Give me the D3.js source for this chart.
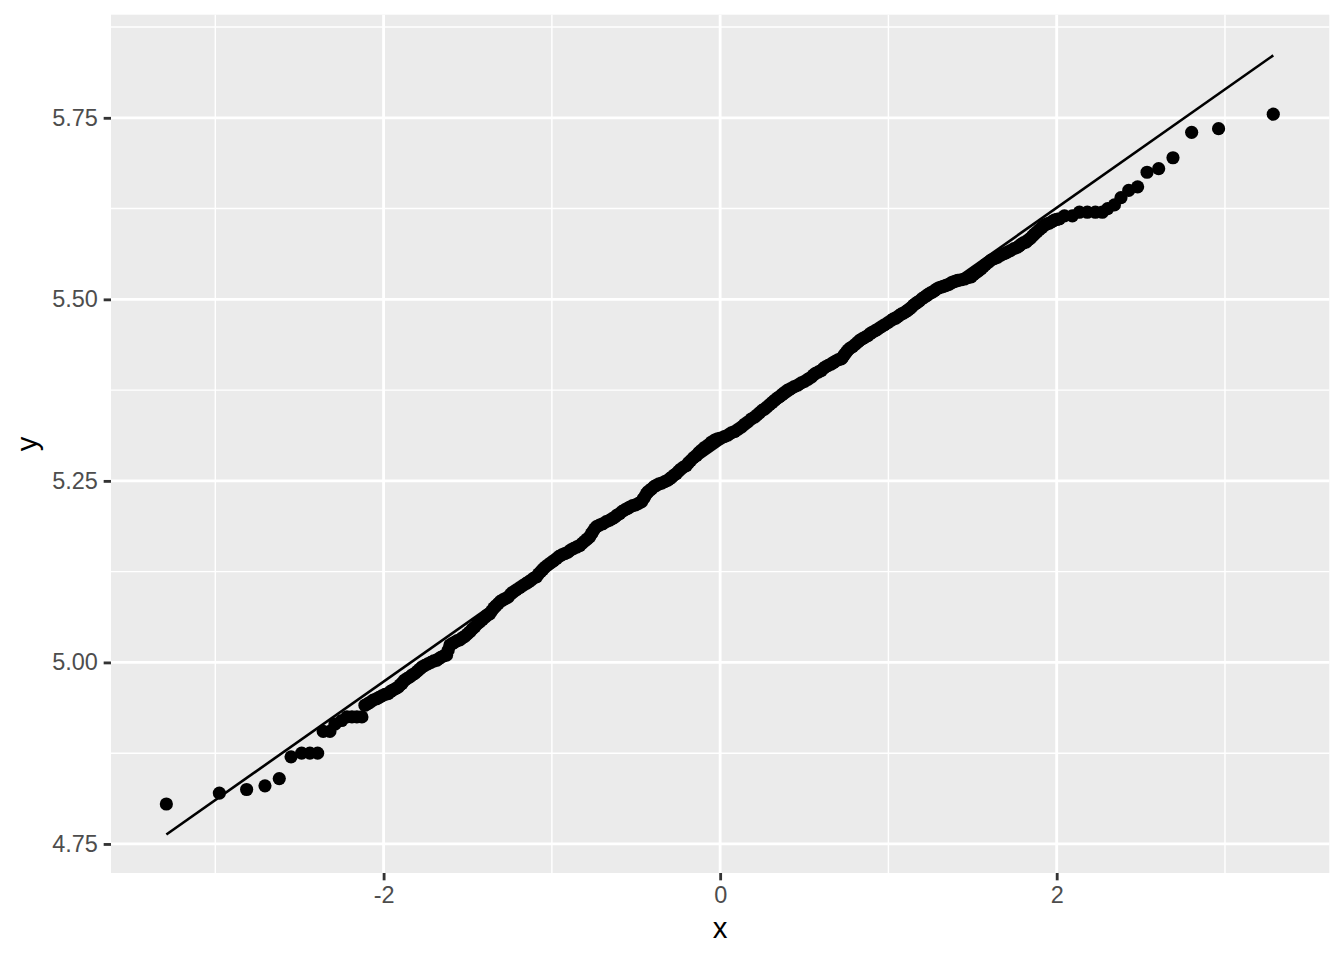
<!DOCTYPE html>
<html>
<head>
<meta charset="utf-8">
<script src="https://cdn.jsdelivr.net/npm/d3@7"></script>
<style>
    body { margin: 0; background: #FFFFFF; }
    text { font-family: "Liberation Sans", Arial, sans-serif; }
</style>
</head>
<body>
<div id="qqplot"></div>
<script>
// Data
// ============================================================================
// theoretical quantiles (x) and sample values (y), sorted
const qqX = [
    -3.291, -2.976, -2.814, -2.705, -2.620, -2.550, -2.487, -2.438, -2.392, -2.359,
    -2.319, -2.289, -2.249, -2.218, -2.188, -2.159, -2.129, -2.111, -2.081, -2.042,
    -2.010, -1.973, -1.945, -1.913, -1.891, -1.873, -1.844, -1.814, -1.784, -1.755,
    -1.719, -1.685, -1.660, -1.626, -1.606, -1.577, -1.547, -1.517, -1.488, -1.458,
    -1.428, -1.398, -1.369, -1.345, -1.319, -1.292, -1.260, -1.230, -1.191, -1.151,
    -1.125, -1.091, -1.066, -1.042, -1.007, -0.973, -0.941, -0.904, -0.870, -0.834,
    -0.805, -0.775, -0.757, -0.735, -0.698, -0.656, -0.626, -0.597, -0.567, -0.537,
    -0.502, -0.468, -0.448, -0.429, -0.407, -0.379, -0.347, -0.310, -0.288, -0.260,
    -0.235, -0.201, -0.175, -0.141, -0.112, -0.074, -0.033, 0.003, 0.046, 0.086,
    0.126, 0.163, 0.205, 0.235, 0.264, 0.294, 0.324, 0.353, 0.383, 0.419,
    0.462, 0.502, 0.542, 0.567, 0.601, 0.626, 0.660, 0.686, 0.720, 0.739,
    0.759, 0.787, 0.818, 0.846, 0.878, 0.906, 0.937, 0.977, 1.017, 1.042,
    1.066, 1.090, 1.115, 1.137, 1.161, 1.185, 1.214, 1.238, 1.262, 1.286,
    1.314, 1.339, 1.363, 1.387, 1.412, 1.452, 1.492, 1.517, 1.551, 1.577,
    1.610, 1.648, 1.689, 1.725, 1.768, 1.790, 1.818, 1.844, 1.868, 1.897,
    1.927, 1.957, 1.986, 2.016, 2.046, 2.093, 2.135, 2.182, 2.230, 2.271,
    2.303, 2.343, 2.382, 2.428, 2.481, 2.537, 2.606, 2.691, 2.802, 2.962,
    3.287
];
const qqY = [
    4.805, 4.820, 4.825, 4.830, 4.840, 4.870, 4.875, 4.875, 4.875, 4.905,
    4.905, 4.915, 4.920, 4.925, 4.925, 4.925, 4.925, 4.941, 4.945, 4.950,
    4.954, 4.957, 4.962, 4.966, 4.971, 4.976, 4.980, 4.985, 4.991, 4.996,
    5.000, 5.003, 5.007, 5.010, 5.024, 5.028, 5.031, 5.036, 5.042, 5.049,
    5.056, 5.062, 5.067, 5.075, 5.081, 5.086, 5.090, 5.097, 5.103, 5.109,
    5.113, 5.118, 5.125, 5.131, 5.137, 5.143, 5.148, 5.152, 5.157, 5.161,
    5.167, 5.173, 5.180, 5.187, 5.191, 5.196, 5.200, 5.205, 5.210, 5.214,
    5.217, 5.221, 5.228, 5.235, 5.239, 5.244, 5.247, 5.251, 5.255, 5.260,
    5.266, 5.271, 5.278, 5.285, 5.292, 5.299, 5.306, 5.309, 5.313, 5.318,
    5.324, 5.331, 5.338, 5.344, 5.349, 5.355, 5.361, 5.366, 5.372, 5.377,
    5.382, 5.387, 5.393, 5.398, 5.402, 5.407, 5.411, 5.415, 5.418, 5.424,
    5.430, 5.435, 5.441, 5.446, 5.450, 5.455, 5.459, 5.465, 5.471, 5.474,
    5.478, 5.481, 5.485, 5.489, 5.494, 5.498, 5.503, 5.507, 5.510, 5.514,
    5.517, 5.519, 5.521, 5.524, 5.526, 5.528, 5.531, 5.536, 5.542, 5.548,
    5.554, 5.558, 5.563, 5.567, 5.572, 5.576, 5.579, 5.584, 5.590, 5.596,
    5.602, 5.605, 5.609, 5.611, 5.615, 5.615, 5.620, 5.620, 5.620, 5.620,
    5.625, 5.630, 5.640, 5.650, 5.655, 5.675, 5.680, 5.695, 5.730, 5.735,
    5.755
];

// more readings inside the dense middle band
const bandX = [
    -2.096, -2.062, -2.026, -1.992, -1.959, -1.929, -1.902, -1.882, -1.859, -1.829,
    -1.799, -1.770, -1.737, -1.702, -1.673, -1.643, -1.616, -1.592, -1.562, -1.532,
    -1.503, -1.473, -1.443, -1.413, -1.384, -1.357, -1.332, -1.306, -1.276, -1.245,
    -1.211, -1.171, -1.138, -1.108, -1.079, -1.054, -1.025, -0.990, -0.957, -0.923,
    -0.887, -0.852, -0.820, -0.790, -0.766, -0.746, -0.717, -0.677, -0.641, -0.612,
    -0.582, -0.552, -0.520, -0.485, -0.458, -0.439, -0.418, -0.393, -0.363, -0.329,
    -0.299, -0.274, -0.248, -0.218, -0.188, -0.158, -0.127, -0.093, -0.054, -0.015,
    0.025, 0.066, 0.106, 0.145, 0.184, 0.220, 0.250, 0.279, 0.309, 0.339,
    0.368, 0.401, 0.441, 0.482, 0.522, 0.555, 0.584, 0.614, 0.643, 0.673,
    0.703, 0.730, 0.749, 0.773, 0.803, 0.832, 0.862, 0.892, 0.922, 0.957,
    0.997, 1.030, 1.054, 1.078, 1.103, 1.126, 1.149, 1.173, 1.200, 1.226,
    1.250, 1.274, 1.300, 1.327, 1.351, 1.375, 1.400, 1.432, 1.472, 1.505,
    1.534, 1.564, 1.594, 1.629, 1.669, 1.707, 1.747, 1.779, 1.804, 1.831,
    1.856, 1.883, 1.912, 1.942, 1.972, 2.001
];
const bandY = [
    4.943, 4.948, 4.952, 4.956, 4.960, 4.964, 4.969, 4.974, 4.978, 4.983,
    4.988, 4.994, 4.998, 5.002, 5.005, 5.009, 5.017, 5.026, 5.030, 5.034,
    5.039, 5.046, 5.053, 5.059, 5.065, 5.071, 5.078, 5.084, 5.088, 5.094,
    5.100, 5.106, 5.111, 5.116, 5.122, 5.128, 5.134, 5.140, 5.146, 5.150,
    5.155, 5.159, 5.164, 5.170, 5.177, 5.184, 5.189, 5.194, 5.198, 5.203,
    5.208, 5.212, 5.216, 5.219, 5.225, 5.232, 5.237, 5.242, 5.246, 5.249,
    5.253, 5.258, 5.263, 5.269, 5.275, 5.282, 5.289, 5.296, 5.303, 5.308,
    5.311, 5.316, 5.321, 5.328, 5.335, 5.341, 5.347, 5.352, 5.358, 5.364,
    5.369, 5.375, 5.380, 5.385, 5.390, 5.396, 5.400, 5.405, 5.409, 5.413,
    5.417, 5.421, 5.427, 5.433, 5.438, 5.444, 5.448, 5.453, 5.457, 5.462,
    5.468, 5.473, 5.476, 5.480, 5.483, 5.487, 5.492, 5.496, 5.501, 5.505,
    5.509, 5.512, 5.516, 5.518, 5.520, 5.523, 5.525, 5.527, 5.530, 5.534,
    5.539, 5.545, 5.551, 5.556, 5.561, 5.565, 5.570, 5.574, 5.578, 5.582,
    5.587, 5.593, 5.599, 5.604, 5.607, 5.610
];

// reference line end points
const lineX = [-3.291, 3.287];
const lineY = [4.763, 5.836];

// axes
const xDomain = [-3.62, 3.62],
    yDomain = [4.710, 5.892];
const xTicks = [-2, 0, 2],
    xMinor = [-3, -1, 1, 3],
    yTicks = [4.75, 5.00, 5.25, 5.50, 5.75],
    yMinor = [4.875, 5.125, 5.375, 5.625, 5.875];

// Layout
// ============================================================================
const pt = 192 / 72,
    margin = {top: 14.7, right: 14.7, bottom: 87, left: 111},
    width = 1344 - margin.left - margin.right,
    height = 960 - margin.top - margin.bottom;

let svg = d3.select("#qqplot")
    .append("svg")
        .attr("width", 1344)
        .attr("height", 960)
    .append("g")
        .attr("transform", "translate(" + margin.left + "," + margin.top + ")");

// Scales
let xScale = d3.scaleLinear().domain(xDomain).range([0, width]);
let yScale = d3.scaleLinear().domain(yDomain).range([height, 0]);

// Panel + grid
// ============================================================================
svg.append("rect")
    .attr("width", width)
    .attr("height", height)
    .attr("fill", "#EBEBEB");

svg.selectAll("minor-x")
    .data(xMinor)
    .enter()
    .append("line")
        .attr("x1", d => xScale(d))
        .attr("x2", d => xScale(d))
        .attr("y1", 0)
        .attr("y2", height)
        .attr("stroke", "#FFFFFF")
        .attr("stroke-width", 0.5 * 1.42 * 2);

svg.selectAll("minor-y")
    .data(yMinor)
    .enter()
    .append("line")
        .attr("x1", 0)
        .attr("x2", width)
        .attr("y1", d => yScale(d))
        .attr("y2", d => yScale(d))
        .attr("stroke", "#FFFFFF")
        .attr("stroke-width", 0.5 * 1.42 * 2);

svg.selectAll("major-x")
    .data(xTicks)
    .enter()
    .append("line")
        .attr("x1", d => xScale(d))
        .attr("x2", d => xScale(d))
        .attr("y1", 0)
        .attr("y2", height)
        .attr("stroke", "#FFFFFF")
        .attr("stroke-width", 1.42 * 2);

svg.selectAll("major-y")
    .data(yTicks)
    .enter()
    .append("line")
        .attr("x1", 0)
        .attr("x2", width)
        .attr("y1", d => yScale(d))
        .attr("y2", d => yScale(d))
        .attr("stroke", "#FFFFFF")
        .attr("stroke-width", 1.42 * 2);

// Points + reference line
// ============================================================================
const points = qqX.map((x, i) => ({x: x, y: qqY[i]}))
    .concat(bandX.map((x, i) => ({x: x, y: bandY[i]})));

svg.selectAll("circle")
    .data(points)
    .enter()
    .append("circle")
        .attr("cx", d => xScale(d.x))
        .attr("cy", d => yScale(d.y))
        .attr("r", 6.6)
        .attr("fill", "#000000");

svg.append("line")
    .attr("x1", xScale(lineX[0]))
    .attr("x2", xScale(lineX[1]))
    .attr("y1", yScale(lineY[0]))
    .attr("y2", yScale(lineY[1]))
    .attr("stroke", "#000000")
    .attr("stroke-width", 2.6);

// Axes
// ============================================================================
const tickLen = 2.75 * pt,
    tickPad = 2.2 * pt;

let xAxis = svg.append("g")
    .attr("transform", "translate(0," + height + ")")
    .call(d3.axisBottom(xScale)
        .tickValues(xTicks)
        .tickSize(tickLen)
        .tickPadding(tickPad)
        .tickFormat(d => d.toString()));

let yAxis = svg.append("g")
    .call(d3.axisLeft(yScale)
        .tickValues(yTicks)
        .tickSize(tickLen)
        .tickPadding(tickPad)
        .tickFormat(d3.format(".2f")));

[xAxis, yAxis].forEach(ax => {
    ax.select(".domain").remove();
    ax.selectAll(".tick line")
        .attr("stroke", "#333333")
        .attr("stroke-width", 1.42 * 2);
    ax.selectAll(".tick text")
        .attr("fill", "#4D4D4D")
        .style("font-size", (8.8 * pt) + "px")
        .style("font-family", "'Liberation Sans', Arial, sans-serif");
});

// Axis titles
svg.append("text")
    .attr("x", width / 2)
    .attr("y", 938 - margin.top)
    .attr("text-anchor", "middle")
    .attr("fill", "#000000")
    .style("font-size", (11 * pt) + "px")
    .text("x");

svg.append("text")
    .attr("transform", "translate(" + (37 - margin.left) + "," + (height / 2) + ") rotate(-90)")
    .attr("text-anchor", "middle")
    .attr("fill", "#000000")
    .style("font-size", (11 * pt) + "px")
    .text("y");
</script>
</body>
</html>
